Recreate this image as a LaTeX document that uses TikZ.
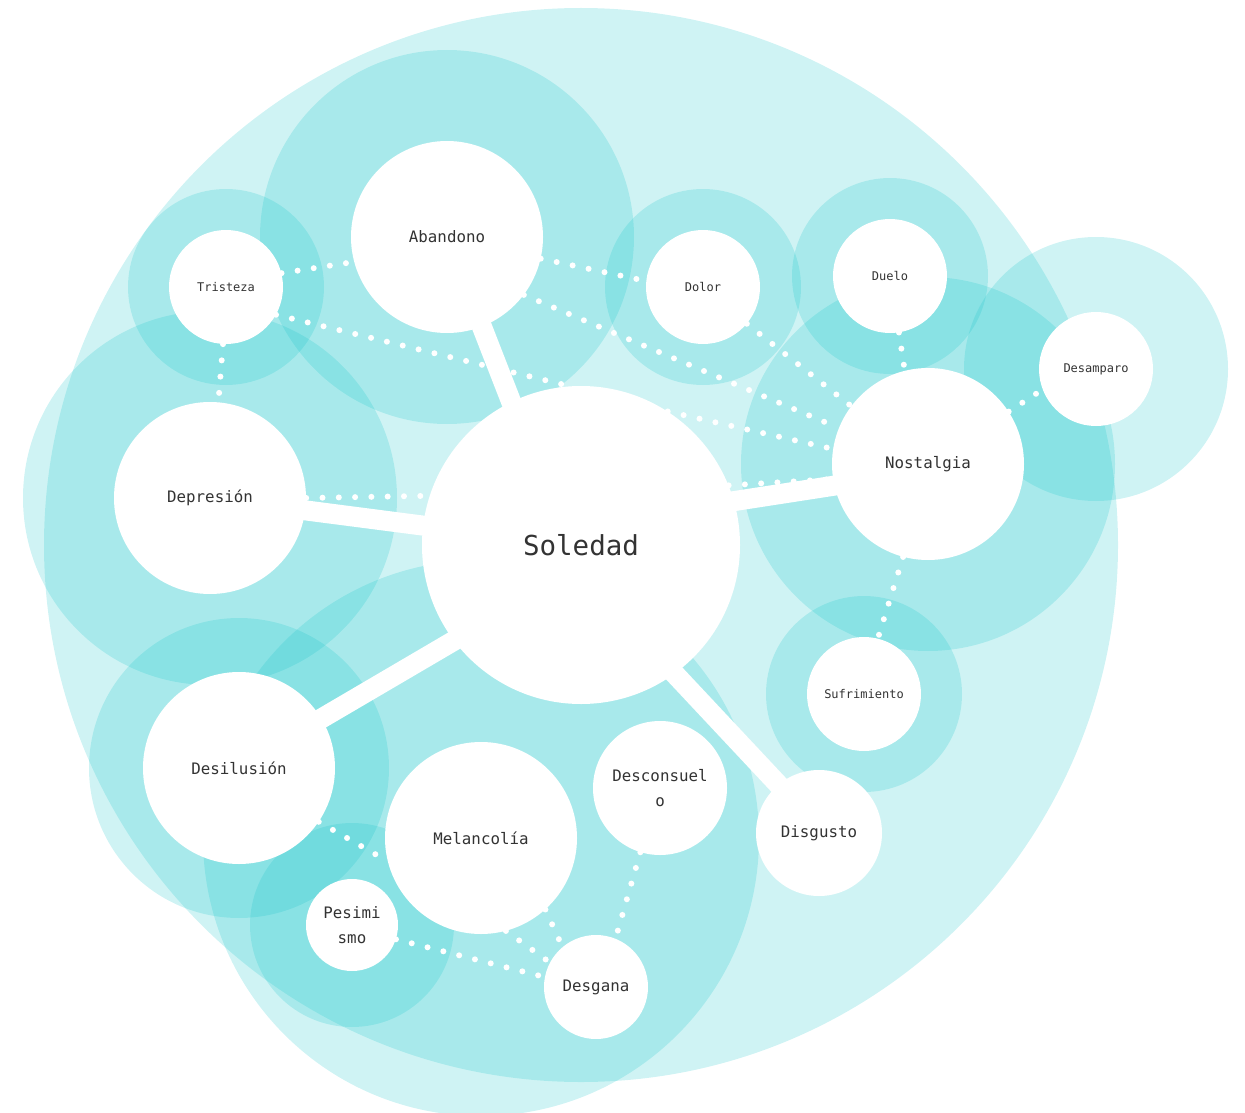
\documentclass[tikz,border=0pt]{standalone}
\usepackage{fontspec}
\newfontfamily\plex{DejaVu Sans Mono}
\definecolor{halocol}{RGB}{15,195,200}
\definecolor{ink}{RGB}{51,51,51}
\pgfdeclarelayer{halos}
\pgfdeclarelayer{dots}
\pgfdeclarelayer{bars}
\pgfsetlayers{halos,dots,bars,main}
\tikzset{
  halo/.style={fill=halocol, fill opacity=0.2},
  bubble/.style={circle, fill=white, inner sep=0pt, text=ink, align=center},
  bigtxt/.style={font=\plex\fontsize{27.5}{30}\selectfont},
  midtxt/.style={font=\plex\fontsize{15.8}{24.5}\selectfont},
  smalltxt/.style={font=\plex\fontsize{12}{14}\selectfont},
  bar/.style={draw=white, line width=20pt, shorten <=-16pt, shorten >=-16pt},
  dotline/.style={draw=white, line width=6pt, line cap=round, dash pattern=on 0pt off 16.3pt}
}
\begin{document}
\begin{tikzpicture}[x=1pt, y=-1pt]
\useasboundingbox (0,0) rectangle (1245,1113);

% nodes
\node[bubble, bigtxt, minimum size=318pt] (soledad) at (581,545) {Soledad};
\node[bubble, midtxt, minimum size=192pt] (abandono) at (447,237) {Abandono};
\node[bubble, smalltxt, minimum size=114pt] (tristeza) at (226,287) {Tristeza};
\node[bubble, midtxt, minimum size=192pt] (depresion) at (210,498) {Depresión};
\node[bubble, smalltxt, minimum size=114pt] (dolor) at (703,287) {Dolor};
\node[bubble, smalltxt, minimum size=114pt] (duelo) at (890,276) {Duelo};
\node[bubble, midtxt, minimum size=192pt] (nostalgia) at (928,464) {Nostalgia};
\node[bubble, smalltxt, minimum size=114pt] (desamparo) at (1096,369) {Desamparo};
\node[bubble, smalltxt, minimum size=114pt] (sufrimiento) at (864,694) {Sufrimiento};
\node[bubble, midtxt, minimum size=192pt] (desilusion) at (239,768) {Desilusión};
\node[bubble, midtxt, minimum size=192pt] (melancolia) at (481,838) {Melancolía};
\node[bubble, midtxt, minimum size=134pt] (desconsuelo) at (660,788) {Desconsuel\\o};
\node[bubble, midtxt, minimum size=126pt] (disgusto) at (819,833) {Disgusto};
\node[bubble, midtxt, minimum size=92pt] (pesimismo) at (352,925) {Pesimi\\smo};
\node[bubble, midtxt, minimum size=104pt] (desgana) at (596,987) {Desgana};

% halos
\begin{pgfonlayer}{halos}
\fill[halo] (soledad.center) circle[radius=537pt];
\fill[halo] (abandono.center) circle[radius=187pt];
\fill[halo] (tristeza.center) circle[radius=98pt];
\fill[halo] (depresion.center) circle[radius=187pt];
\fill[halo] (dolor.center) circle[radius=98pt];
\fill[halo] (duelo.center) circle[radius=98pt];
\fill[halo] (nostalgia.center) circle[radius=187pt];
\fill[halo] (desamparo.center) circle[radius=132pt];
\fill[halo] (sufrimiento.center) circle[radius=98pt];
\fill[halo] (desilusion.center) circle[radius=150pt];
\fill[halo] (melancolia.center) circle[radius=278pt];
\fill[halo] (pesimismo.center) circle[radius=102pt];
\end{pgfonlayer}

% dotted links
\begin{pgfonlayer}{dots}
\draw[dotline] (tristeza.14) -- (abandono.195);
\draw[dotline] (tristeza.-29) -- (soledad.94);
\draw[dotline] (tristeza.-93) -- (depresion.85);
\draw[dotline] (depresion.0) -- (soledad.162);
\draw[dotline] (abandono.-13) -- (dolor.174);
\draw[dotline] (abandono.-37) -- (nostalgia.158);
\draw[dotline] (dolor.-40) -- (nostalgia.143);
\draw[dotline] (soledad.57) -- (nostalgia.171);
\draw[dotline] (soledad.22) -- (nostalgia.189);
\draw[dotline] (duelo.-81) -- (nostalgia.104);
\draw[dotline] (nostalgia.33) -- (desamparo.201);
\draw[dotline] (nostalgia.-105) -- (sufrimiento.76);
\draw[dotline] (desilusion.-34) -- (melancolia.194);
\draw[dotline] (pesimismo.-18) -- (desgana.169);
\draw[dotline] (melancolia.-75) -- (desgana.152);
\draw[dotline] (melancolia.-48) -- (desgana.130);
\draw[dotline] (desconsuelo.-107) -- (desgana.68);
\end{pgfonlayer}

% solid links
\begin{pgfonlayer}{bars}
\draw[bar] (abandono.center) -- (soledad.116);
\draw[bar] (depresion.center) -- (soledad.173);
\draw[bar] (soledad.16) -- (nostalgia.193);
\draw[bar] (soledad.217) -- (desilusion.31);
\draw[bar] (soledad.-54) -- (disgusto.130);
\end{pgfonlayer}
\end{tikzpicture}
\end{document}
